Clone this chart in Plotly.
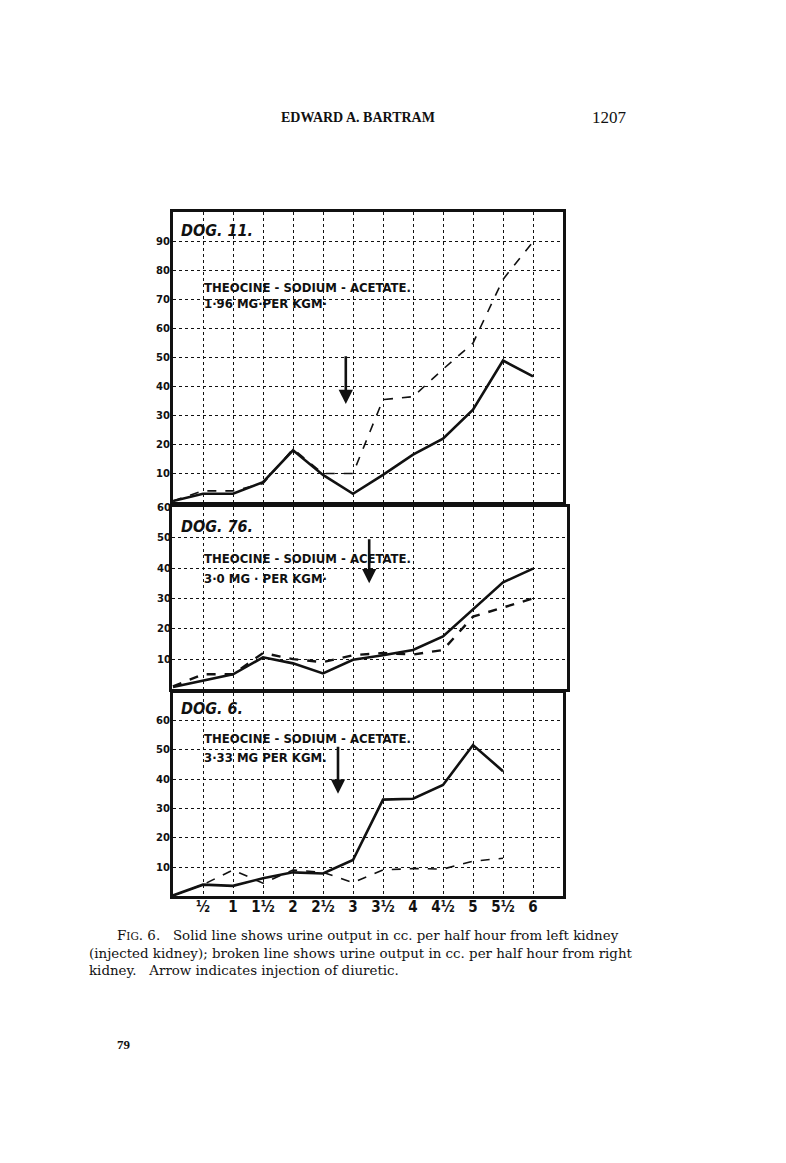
import plotly.graph_objects as go

W, H = 786, 1163

# ---------------- data ----------------
hours = [0, 0.5, 1, 1.5, 2, 2.5, 3, 3.5, 4, 4.5, 5, 5.5, 6]
hour_ticks = [0.5, 1, 1.5, 2, 2.5, 3, 3.5, 4, 4.5, 5, 5.5, 6]
hour_labels = ["½", "1", "1½", "2", "2½", "3", "3½", "4", "4½", "5", "5½", "6"]

dog11_left = [0.5, 3, 3, 7, 18, 9.5, 3, 9.5, 16.5, 22, 32, 49, 43.5]
dog11_right = [0.5, 4, 4, 6.5, 18.5, 10, 10, 35.5, 36.5, 46, 55, 77, 90]

dog76_left = [0.8, 3, 5, 10.6, 8.6, 5.3, 9.8, 11.3, 13, 17.5, 26.5, 35.3, 39.8]
dog76_right = [1, 5, 5, 12, 10, 9, 11.3, 12, 11.5, 13, 24, 27, 30]

dog6_left = [0.3, 4, 3.6, 6.2, 8.2, 7.8, 12.4, 33, 33.3, 38, 51.6, 42.7]
dog6_right = [0.3, 4, 9, 4.5, 9, 8.2, 4.7, 9, 9.5, 9.3, 12, 13]

y_ticks_top = [10, 20, 30, 40, 50, 60, 70, 80, 90]
y_ticks_mid = [10, 20, 30, 40, 50, 60]
y_ticks_bot = [10, 20, 30, 40, 50, 60]

dog_names = ["DOG. 11.", "DOG. 76.", "DOG. 6."]
drug_name = ["THEOCINE - SODIUM - ACETATE.", "THEOCINE - SODIUM - ACETATE.", "THEOCINE - SODIUM - ACETATE."]
doses = ["1·96 MG·PER KGM·", "3·0 MG · PER KGM·", "3·33 MG PER KGM."]
# injection arrows: (hour, arrow top value, arrow tip value)
arrows = [(2.88, 51, 34), (3.27, 50, 35), (2.75, 51.5, 35)]

# ---------------- geometry helpers ----------------
def px(x):
    return x / W

def py(y):
    return 1 - y / H

ink = "#111111"
fig = go.Figure()

panels = [
    ("x", "y", dog11_left, dog11_right, 1.6),
    ("x2", "y2", dog76_left, dog76_right, 2.4),
    ("x3", "y3", dog6_left, dog6_right, 1.6),
]
for xa, ya, left, right, dw in panels:
    fig.add_trace(go.Scatter(x=hours[:len(right)], y=right, xaxis=xa, yaxis=ya, mode="lines",
                             line=dict(color=ink, width=dw, dash="dash"), showlegend=False,
                             hoverinfo="skip"))
    fig.add_trace(go.Scatter(x=hours[:len(left)], y=left, xaxis=xa, yaxis=ya, mode="lines",
                             line=dict(color=ink, width=2.6), showlegend=False,
                             hoverinfo="skip"))

grid = dict(showgrid=True, gridcolor=ink, gridwidth=1, griddash="dot", zeroline=False,
            showline=True, linecolor=ink, linewidth=3, mirror=True, ticks="")
tickfont = dict(family="DejaVu Sans", size=10, color=ink, weight="bold")

fig.update_layout(
    width=W, height=H, margin=dict(l=0, r=0, t=0, b=0),
    paper_bgcolor="white", plot_bgcolor="white",
    xaxis=dict(domain=[px(173), px(563)], range=[0, 6.5], anchor="y", tickvals=hour_ticks,
               showticklabels=False, **grid),
    yaxis=dict(domain=[py(499), py(207)], range=[0, 100.3], anchor="x", tickvals=y_ticks_top,
               tickfont=tickfont, ticklabelstandoff=-2, **grid),
    xaxis2=dict(domain=[px(172), px(567)], range=[-1 / 60, 394 / 60], anchor="y2",
                tickvals=hour_ticks, showticklabels=False, **grid),
    yaxis2=dict(domain=[py(687), py(504)], range=[0, 60], anchor="x2", tickvals=y_ticks_mid,
                tickfont=tickfont, ticklabelstandoff=-4, **grid),
    xaxis3=dict(domain=[px(173), px(563)], range=[0, 6.5], anchor="y3", tickvals=hour_ticks,
                ticktext=hour_labels, ticklabelstandoff=-5,
                tickfont=dict(family="DejaVu Sans Condensed, DejaVu Sans", size=15, color=ink,
                              weight="bold"),
                **grid),
    yaxis3=dict(domain=[py(895), py(691)], range=[0, 69.2], anchor="x3", tickvals=y_ticks_bot,
                tickfont=tickfont, ticklabelstandoff=-2, **grid),
)

hand = "Liberation Sans Narrow, DejaVu Sans Condensed, sans-serif"
text_pos = [
    # (xref, yref, name y, drug y, dose y)
    ("x", "y", 90, 71, 65.5),
    ("x2", "y2", 50, 40, 33.3),
    ("x3", "y3", 60, 50.5, 44),
]
anns = []
for i, (xr, yr, ny, dy, sy) in enumerate(text_pos):
    anns.append(dict(x=0.1, y=ny, xref=xr, yref=yr, text="<b><i>" + dog_names[i] + "</i></b>",
                     showarrow=False, xanchor="left", yanchor="bottom",
                     font=dict(family=hand, size=16, color=ink)))
    anns.append(dict(x=0.48, y=dy, xref=xr, yref=yr, text="<b>" + drug_name[i] + "</b>",
                     showarrow=False, xanchor="left", yanchor="bottom",
                     font=dict(family=hand, size=13, color=ink)))
    anns.append(dict(x=0.48, y=sy, xref=xr, yref=yr, text="<b>" + doses[i] + "</b>",
                     showarrow=False, xanchor="left", yanchor="bottom",
                     font=dict(family=hand, size=13, color=ink)))
    ax_, top, tip = arrows[i]
    anns.append(dict(x=ax_, y=tip, ax=ax_, ay=top, xref=xr, yref=yr, axref=xr, ayref=yr,
                     text="", showarrow=True, arrowhead=2, arrowsize=1.1, arrowwidth=2.6,
                     arrowcolor=ink))

serif = "Liberation Serif, DejaVu Serif, serif"
cap = "DejaVu Serif, serif"
cap_size = 13.4
anns += [
    dict(x=px(358), y=py(112), xref="paper", yref="paper", text="<b>EDWARD A. BARTRAM</b>",
         showarrow=False, yanchor="middle", font=dict(family=serif, size=14, color=ink)),
    dict(x=px(629), y=py(112), xref="paper", yref="paper", text="1207", xanchor="right",
         showarrow=False, yanchor="middle", font=dict(family=serif, size=17, color=ink)),
    dict(x=px(115), y=py(934), xref="paper", yref="paper", xanchor="left", yanchor="middle",
         text="F<span style='font-size:10.5px'>IG</span>. 6.&nbsp;&nbsp;&nbsp;Solid line shows urine output in cc. per half hour from left kidney",
         showarrow=False, font=dict(family=cap, size=cap_size, color=ink)),
    dict(x=px(87), y=py(952), xref="paper", yref="paper", xanchor="left", yanchor="middle",
         text="(injected kidney); broken line shows urine output in cc. per half hour from right",
         showarrow=False, font=dict(family=cap, size=cap_size, color=ink)),
    dict(x=px(87), y=py(969), xref="paper", yref="paper", xanchor="left", yanchor="middle",
         text="kidney.&nbsp;&nbsp;&nbsp;Arrow indicates injection of diuretic.",
         showarrow=False, font=dict(family=cap, size=cap_size, color=ink)),
    dict(x=px(115), y=py(1044), xref="paper", yref="paper", xanchor="left", yanchor="middle",
         text="<b>79</b>", showarrow=False, font=dict(family=serif, size=13, color=ink)),
]
fig.update_layout(annotations=anns)

fig.write_html("out.html", config={"displayModeBar": False},
               post_script="document.body.style.margin='0';")
